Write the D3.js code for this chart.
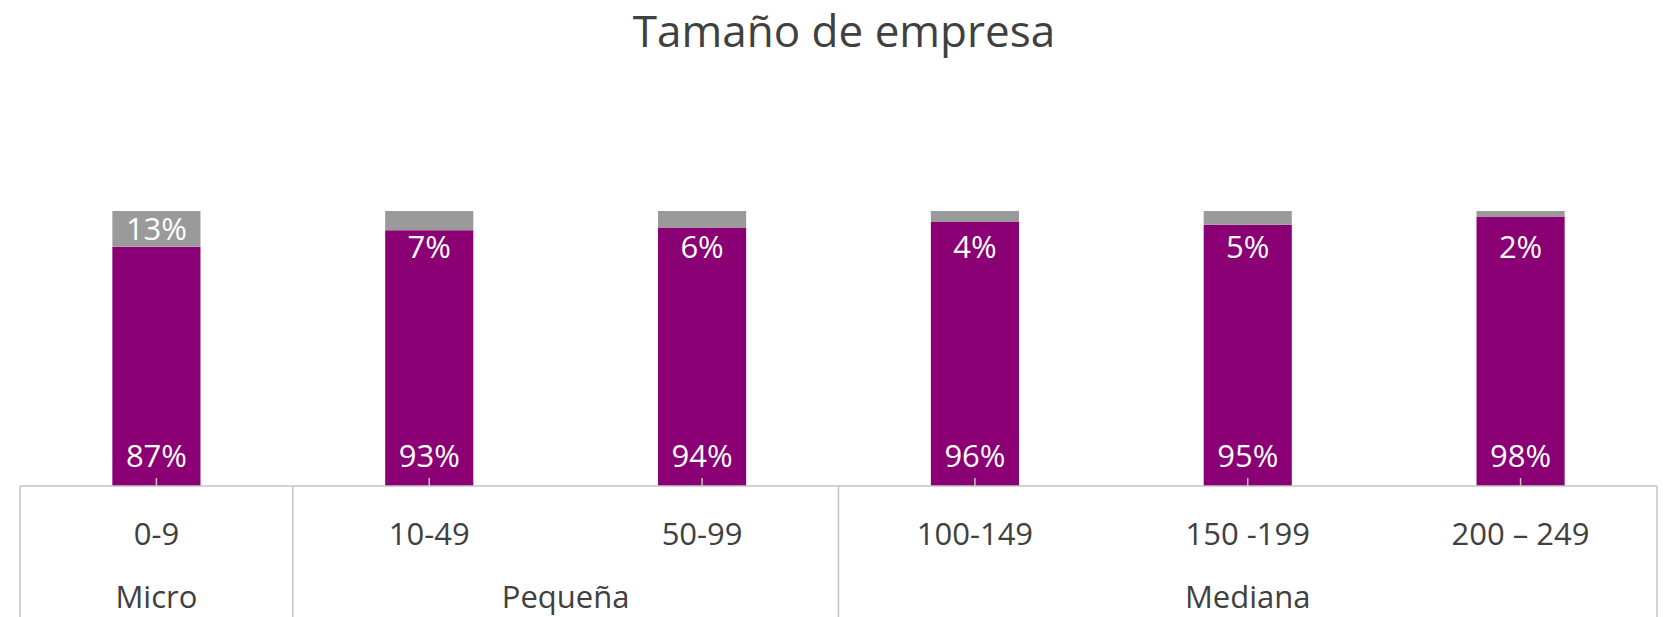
<!DOCTYPE html>
<html>
<head>
<meta charset="utf-8">
<script src="https://cdn.jsdelivr.net/npm/d3@7"></script>
<style>
  body { margin: 0; background: #fff; }
  svg { display: block; font-family: "Open Sans", sans-serif; }
</style>
</head>
<body>
<div id="chart"></div>
<script>
// data
var categories = ["0-9", "10-49", "50-99", "100-149", "150 -199", "200 \u2013 249"]
var groups = ["Micro", "Pequeña", "Mediana"]
var groupSizes = [1, 2, 3]
var mainValues = [0.87, 0.93, 0.94, 0.96, 0.95, 0.98]
var restValues = [0.13, 0.07, 0.06, 0.04, 0.05, 0.02]
var title = "Tamaño de empresa"

var w = 1665, h = 617
var purple = "#8a0074"
var grey = "#9a9a9a"
var lineColour = "#c4c4c4"
var textColour = "#404040"

var svg = d3.select("#chart")
	.append("svg")
	.attr("width", w)
	.attr("height", h)

// scales
var x = d3.scaleBand()
	.domain(categories)
	.range([20, 1657])
	.paddingInner(0.677)
	.paddingOuter(0.3385)

var y = d3.scaleLinear()
	.domain([0, 1])
	.range([486, 211])

var rows = categories.map(function(c, i) {
	return {cat: c, main: mainValues[i], rest: restValues[i]}
})

// title
svg.append("text")
	.attr("x", 844)
	.attr("y", 47)
	.attr("text-anchor", "middle")
	.style("font-size", "44px")
	.style("fill", textColour)
	.text(title)

// bars
var barG = svg.append("g")

barG.selectAll(".main")
	.data(rows)
	.enter()
	.append("rect")
	.classed("main", true)
	.attr("x", function(d) {return x(d.cat)})
	.attr("width", x.bandwidth())
	.attr("y", function(d) {return y(d.main)})
	.attr("height", function(d) {return y(0) - y(d.main)})
	.style("fill", purple)

barG.selectAll(".rest")
	.data(rows)
	.enter()
	.append("rect")
	.classed("rest", true)
	.attr("x", function(d) {return x(d.cat)})
	.attr("width", x.bandwidth())
	.attr("y", function(d) {return y(d.main + d.rest)})
	.attr("height", function(d) {return y(d.main) - y(d.main + d.rest)})
	.style("fill", grey)

// labels
var fmt = d3.format(".0%")

barG.selectAll(".mainLabel")
	.data(rows)
	.enter()
	.append("text")
	.attr("x", function(d) {return x(d.cat) + x.bandwidth() / 2})
	.attr("y", y(0) - 19)
	.attr("text-anchor", "middle")
	.style("font-size", "31px")
	.style("fill", "#fff")
	.text(function(d) {return fmt(d.main)})

barG.selectAll(".restLabel")
	.data(rows)
	.enter()
	.append("text")
	.attr("x", function(d) {return x(d.cat) + x.bandwidth() / 2})
	.attr("y", function(d) {
		var top = y(d.main + d.rest), bottom = y(d.main)
		// small segments: label drops into the purple part
		var mid = (bottom - top) >= 30 ? (top + bottom) / 2 : top + 35.5
		return mid + 11.5
	})
	.attr("text-anchor", "middle")
	.style("font-size", "31px")
	.style("fill", "#fff")
	.text(function(d) {return fmt(d.rest)})

// axis: base line, ticks, dividers
var axisG = svg.append("g")
	.style("stroke", lineColour)
	.style("stroke-width", 1.5)

axisG.append("line")
	.attr("x1", 20).attr("x2", 1657)
	.attr("y1", y(0)).attr("y2", y(0))

axisG.selectAll(".tick")
	.data(categories)
	.enter()
	.append("line")
	.attr("x1", function(d) {return x(d) + x.bandwidth() / 2})
	.attr("x2", function(d) {return x(d) + x.bandwidth() / 2})
	.attr("y1", y(0) - 8)
	.attr("y2", y(0))

var bounds = [0]
groupSizes.forEach(function(s) {bounds.push(bounds[bounds.length - 1] + s)})
var step = x.step()
var x0 = x.range()[0]

axisG.selectAll(".divider")
	.data(bounds)
	.enter()
	.append("line")
	.attr("x1", function(b) {return x0 + b * step})
	.attr("x2", function(b) {return x0 + b * step})
	.attr("y1", y(0))
	.attr("y2", h)

// category labels
svg.selectAll(".catLabel")
	.data(categories)
	.enter()
	.append("text")
	.attr("x", function(d) {return x(d) + x.bandwidth() / 2})
	.attr("y", 545)
	.attr("text-anchor", "middle")
	.style("font-size", "31px")
	.style("fill", textColour)
	.text(function(d) {return d})

// group labels
svg.selectAll(".groupLabel")
	.data(groups)
	.enter()
	.append("text")
	.attr("x", function(d, i) {return x0 + (bounds[i] + bounds[i + 1]) / 2 * step})
	.attr("y", 608)
	.attr("text-anchor", "middle")
	.style("font-size", "31px")
	.style("fill", textColour)
	.text(function(d) {return d})
</script>
</body>
</html>
